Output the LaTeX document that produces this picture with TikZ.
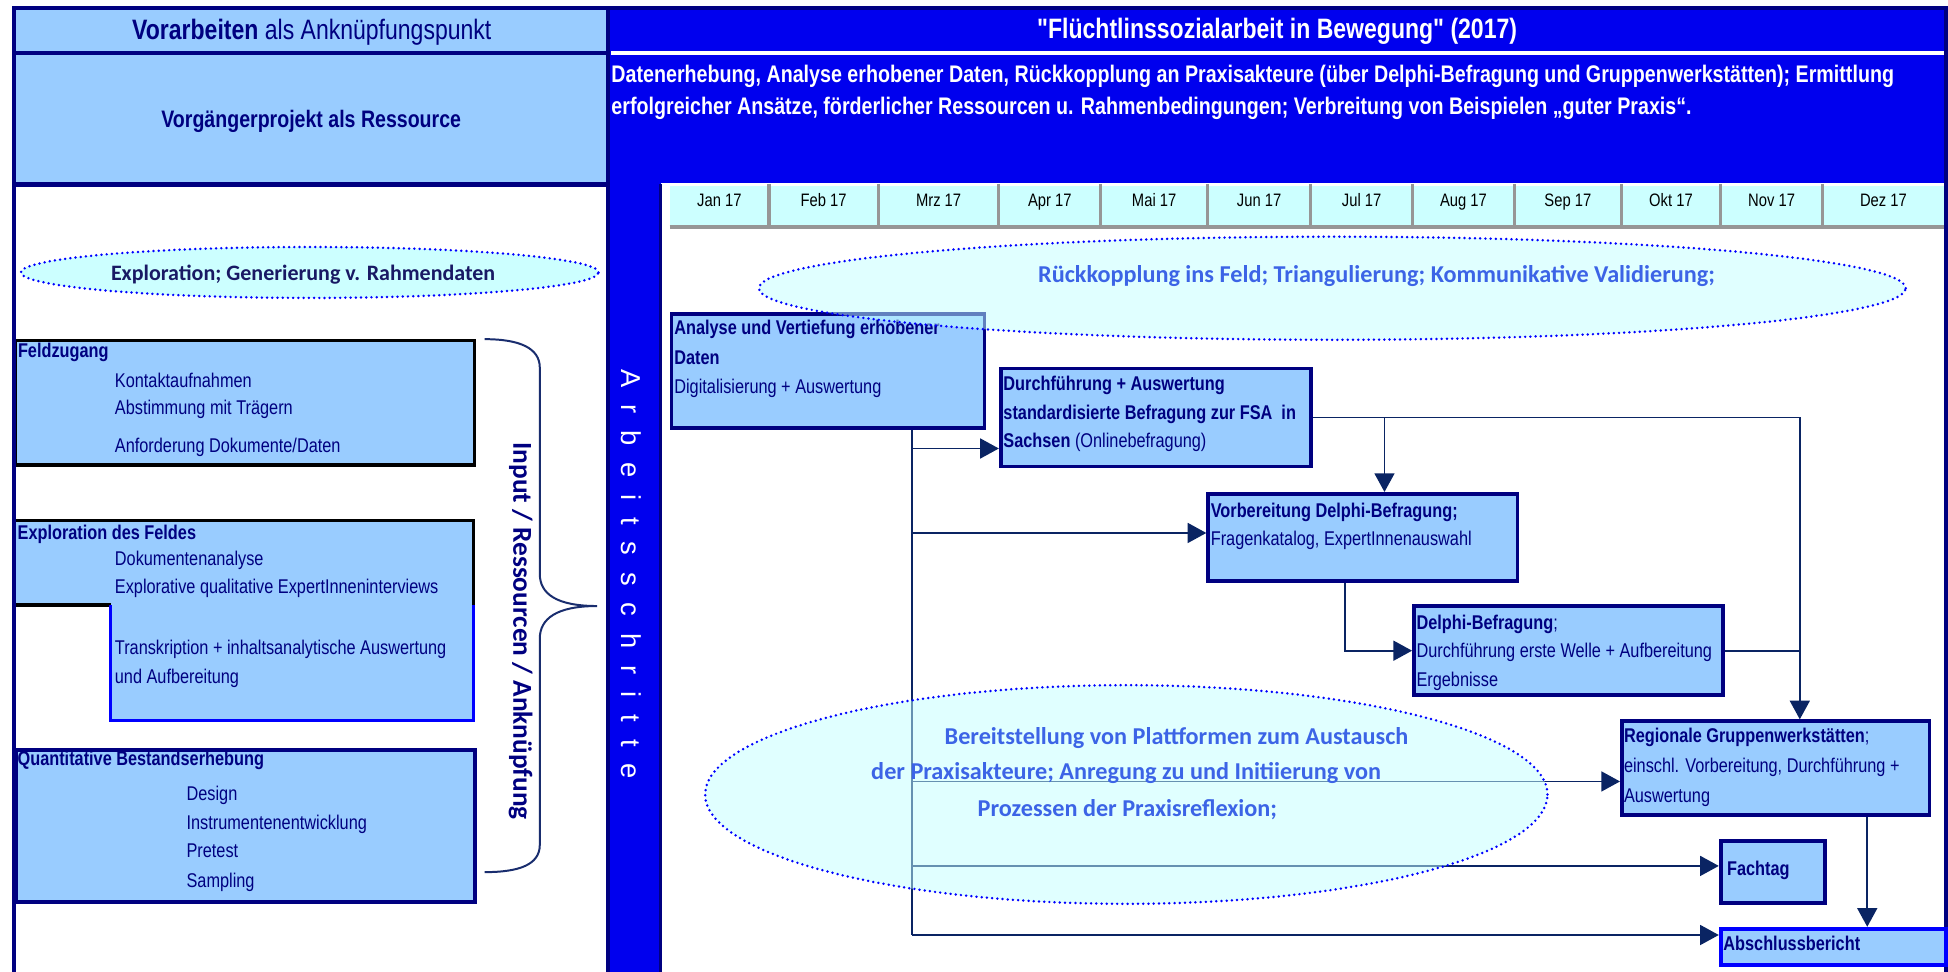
\documentclass[tikz,border=0pt]{standalone}
\usepackage{fontspec}
\setmainfont{Liberation Sans}
\newfontfamily\narr[FakeStretch=0.82]{Liberation Sans}
\newfontfamily\calib{Carlito}
\usetikzlibrary{shapes.geometric,arrows.meta}
\definecolor{navy}{RGB}{0,0,128}
\definecolor{lblue}{RGB}{153,204,255}
\definecolor{bblue}{RGB}{0,0,238}
\definecolor{hcyan}{RGB}{204,255,255}
\definecolor{gline}{RGB}{150,150,150}
\definecolor{conncol}{RGB}{10,36,99}
\definecolor{dotblue}{RGB}{0,0,255}
\definecolor{elltext}{RGB}{60,100,230}
\definecolor{ellfill}{RGB}{194,255,255}
\definecolor{bracecol}{RGB}{25,45,110}
\definecolor{expltext}{RGB}{25,25,100}
\newcommand\fsz[1]{\fontsize{#1}{#1}\selectfont}
\newcommand\ks{\kern13.6pt}
\begin{document}
\begin{tikzpicture}[x=1pt,y=-1pt,
  lbl/.style={inner sep=0pt, anchor=base west, text=navy, font=\narr\fsz{16}},
  lblb/.style={lbl, font=\narr\bfseries\fsz{16}},
  flow/.style={draw=navy, line width=3pt, fill=lblue, inner sep=0pt, anchor=north west},
  conn/.style={draw=conncol, line width=1.5pt},
  arr/.style={conn, -{Triangle[length=15pt,width=16pt]}},
  dotell/.style={ellipse, draw=dotblue, line width=2.2pt, dash pattern=on 0pt off 4.2pt, line cap=round, inner sep=0pt},
  month/.style={inner sep=0pt, anchor=base, font=\narr\fsz{14.5}},
  elltxt/.style={inner sep=0pt, anchor=base, text=elltext, font=\calib\bfseries\fsz{19.5}},
]
\useasboundingbox (0,0) rectangle (1568,782);
\fill[white] (0,0) rectangle (1568,782);

% ---------- frame ----------
\fill[lblue] (10,5) rectangle (490,148);
\fill[bblue] (490,5) rectangle (1566,147);
\fill[white] (491.5,41) rectangle (1564.5,44);
\fill[bblue] (490,140) rectangle (532,782);

% ---------- header months ----------
\foreach \l/\r/\t [count=\i] in {539/619/Jan 17,619/707/Feb 17,707/804/Mrz 17,804/886/Apr 17,886/972/Mai 17,972/1055/Jun 17,1055/1137/Jul 17,1137/1219/Aug 17,1219/1305/Sep 17,1305/1385/Okt 17,1385/1467/Nov 17,1467/1565/Dez 17}{
  \fill[hcyan] (\l,150) rectangle (\r,181);
  \node[month] (m\i) at ({(\l+\r)/2},166) {\t};
}
\foreach \x in {619,707,804,886,972,1055,1137,1219,1305,1385,1467}
  \draw[gline, line width=2.5pt] (\x,148) -- (\x,184);
\draw[gline, line width=3pt] (539,182.5) -- (1565,182.5);

% ---------- titles ----------
\node[inner sep=0pt, anchor=base, text=navy, font=\narr\fsz{22.6}] (ltitle) at (251,31.5) {\textbf{Vorarbeiten} als Anknüpfungspunkt};
\node[inner sep=0pt, anchor=base, text=navy, font=\narr\bfseries\fsz{19.2}] (lsub) at (250.5,103) {Vorgängerprojekt als Ressource};
\node[inner sep=0pt, anchor=base, text=white, font=\narr\bfseries\fsz{22.6}] (rtitle) at (1028,31) {"Flüchtlinssozialarbeit in Bewegung" (2017)};
\node[inner sep=0pt, anchor=base west, text=white, font=\narr\bfseries\fsz{19.3}] (rsub1) at (492,66.5) {Datenerhebung, Analyse erhobener Daten, Rückkopplung an Praxisakteure (über Delphi-Befragung und Gruppenwerkstätten); Ermittlung};
\node[inner sep=0pt, anchor=base west, text=white, font=\narr\bfseries\fsz{19.3}] (rsub2) at (492,92.5) {erfolgreicher Ansätze, förderlicher Ressourcen u. Rahmenbedingungen; Verbreitung von Beispielen „guter Praxis“.};

% Arbeitsschritte
\node[inner sep=0pt, rotate=-90, text=white, font=\fsz{22}] (arb) at (508,462) {A\ks r\ks b\ks e\ks i\ks t\ks s\ks s\ks c\ks h\ks r\ks i\ks t\ks t\ks e};

% ---------- left panel ----------
\node[dotell, fill=hcyan, minimum width=465pt, minimum height=41pt] (explell) at (249.3,219.3) {};
\node[inner sep=0pt, anchor=base, text=expltext, font=\calib\bfseries\fsz{17.7}] (expltxt) at (244,225.5) {Exploration; Generierung v. Rahmendaten};

\node[flow, draw=black, line width=2.5pt, minimum width=369.5pt, minimum height=100pt] (fz) at (11.5,273) {};
\node[lblb] (fz0) at (14.3,287.7) {Feldzugang};
\node[lbl] (fz1) at (92.3,312) {Kontaktaufnahmen};
\node[lbl] (fz2) at (92.3,333.4) {Abstimmung mit Trägern};
\node[lbl] (fz3) at (92.3,364) {Anforderung Dokumente/Daten};

\fill[lblue] (11.5,419) rectangle (381,487);
\fill[lblue] (89,486) rectangle (381,580);
\draw[black, line width=2.5pt] (11.5,419) -- (381,419) -- (381,487);
\draw[black, line width=2.5pt] (11.5,487) -- (89,487);
\draw[dotblue, line width=2.5pt] (89,487) -- (89,580) -- (381,580) -- (381,487);
\node[lblb] (ef0) at (14,434) {Exploration des Feldes};
\node[lbl] (ef1) at (92.3,455) {Dokumentenanalyse};
\node[lbl] (ef2) at (92.3,477.7) {Explorative qualitative ExpertInneninterviews};
\node[lbl] (ef3) at (92.3,526.5) {Transkription + inhaltsanalytische Auswertung};
\node[lbl] (ef4) at (92.3,550) {und Aufbereitung};

\node[flow, minimum width=369.5pt, minimum height=122.5pt] (qb) at (11.5,602) {};
\node[lblb] (qb0) at (14,616) {Quantitative Bestandserhebung};
\node[lbl] (qb1) at (150,644.5) {Design};
\node[lbl] (qb2) at (150,667.4) {Instrumentenentwicklung};
\node[lbl] (qb3) at (150,690) {Pretest};
\node[lbl] (qb4) at (150,714.4) {Sampling};

\draw[bracecol, line width=1.6pt] (390,273) .. controls (418,273) and (434.5,280) .. (434.5,296) -- (434.5,462) .. controls (434.5,478) and (448,487.8) .. (480.6,487.8) .. controls (448,487.8) and (434.5,498) .. (434.5,514) -- (434.5,680) .. controls (434.5,696) and (418,702) .. (390,702);
\node[inner sep=0pt, rotate=-90, text=navy, font=\calib\bfseries\fsz{22}] (inp) at (419,508) {Input / Ressourcen / Anknüpfung};

% navy frame lines
\draw[navy, line width=3pt] (10,6.5) -- (1567,6.5);
\draw[navy, line width=3pt] (11.5,5) -- (11.5,782);
\draw[navy, line width=3pt] (489.5,5) -- (489.5,782);
\draw[navy, line width=3.5pt] (10,42.5) -- (489.5,42.5);
\draw[navy, line width=3.5pt] (10,148.5) -- (489.5,148.5);
\draw[navy, line width=2.5pt] (531.5,148) -- (531.5,782);
\draw[navy, line width=3pt] (1566.5,5) -- (1566.5,782);

% ---------- flow boxes ----------
\node[flow, minimum width=252pt, minimum height=92pt] (A) at (539,251) {};
\node[lblb] (a1) at (542.6,269) {Analyse und Vertiefung erhobener};
\node[lblb] (a2) at (542.6,293) {Daten};
\node[lbl] (a3) at (542.6,317) {Digitalisierung + Auswertung};

\node[flow, minimum width=250pt, minimum height=79pt] (B) at (804,295) {};
\node[lblb] (b1) at (807.5,314.5) {Durchführung + Auswertung};
\node[lblb] (b2) at (807.5,338) {standardisierte Befragung zur FSA\ \ in};
\node[lbl] (b3) at (807.5,360) {\textbf{Sachsen} (Onlinebefragung)};

\node[flow, minimum width=249pt, minimum height=70pt] (C) at (971,396) {};
\node[lblb] (c1) at (974.4,416.5) {Vorbereitung Delphi-Befragung;};
\node[lbl] (c2) at (974.4,439) {Fragenkatalog, ExpertInnenauswahl};

\node[flow, minimum width=249pt, minimum height=71.5pt] (D) at (1136.6,486.5) {};
\node[lbl] (d1) at (1140,506.4) {\textbf{Delphi-Befragung};};
\node[lbl] (d2) at (1140,529) {Durchführung erste Welle + Aufbereitung};
\node[lbl] (d3) at (1140,552.8) {Ergebnisse};

\node[flow, minimum width=247.6pt, minimum height=75.7pt] (E) at (1304,579) {};
\node[lbl] (e1) at (1307,597.7) {\textbf{Regionale Gruppenwerkstätten};};
\node[lbl] (e2) at (1307,621.8) {einschl. Vorbereitung, Durchführung +};
\node[lbl] (e3) at (1307,646) {Auswertung};

\node[flow, minimum width=84pt, minimum height=49.7pt] (F) at (1383.5,675.6) {};
\node[lblb] (f1) at (1390,705) {Fachtag};

\node[flow, draw=dotblue, minimum width=181.5pt, minimum height=29.4pt] (G) at (1383.5,746) {};
\node[lblb] (g1) at (1387,765.4) {Abschlussbericht};

% ---------- connectors ----------
\coordinate (tB) at (734.4,361);
\coordinate (tC) at (734.4,429);
\coordinate (tE) at (734.4,629);
\coordinate (tF) at (734.4,697);
\coordinate (tG) at (734.4,752.6);
\draw[conn] (A.south -| tG) -- (tG);
\draw[arr] (tB) -- (tB -| B.west);
\draw[arr] (tC) -- (tC -| C.west);
\draw[arr] (tE) -- (tE -| E.west);
\draw[arr] (tF) -- (tF -| F.west);
\draw[arr] (tG) -- (tG -| G.west);

\coordinate (vx) at (1448.7,0);
\coordinate (cx) at (1114.4,0);
\coordinate (cdx) at (1082.5,0);
\coordinate (egx) at (1503,0);
\draw[conn] (B.east) -- (B.east -| vx);
\draw[arr] (B.east -| vx) -- (vx |- E.north);
\draw[arr] (B.east -| cx) -- (cx |- C.north);
\draw[arr] (cdx |- C.south) |- (D.west);
\draw[conn] (D.east) -- (D.east -| vx);
\draw[arr] (egx |- E.south) -- (egx |- G.north);

% ---------- ellipses over ----------
\node[dotell, fill=ellfill, fill opacity=0.5, minimum width=923pt, minimum height=83pt] (rk) at (1072.4,232) {};
\node[elltxt] (rktxt) at (1108,227) {Rückkopplung ins Feld; Triangulierung; Kommunikative Validierung;};

\node[dotell, fill=ellfill, fill opacity=0.5, minimum width=678pt, minimum height=176pt] (bp) at (906.6,639.5) {};
\node[elltxt] (bp1) at (947,599.5) {Bereitstellung von Plattformen zum Austausch};
\node[elltxt] (bp2) at (906.5,627.5) {der Praxisakteure; Anregung zu und Initiierung von};
\node[elltxt] (bp3) at (907.5,657) {Prozessen der Praxisreflexion;};
\end{tikzpicture}
\end{document}
